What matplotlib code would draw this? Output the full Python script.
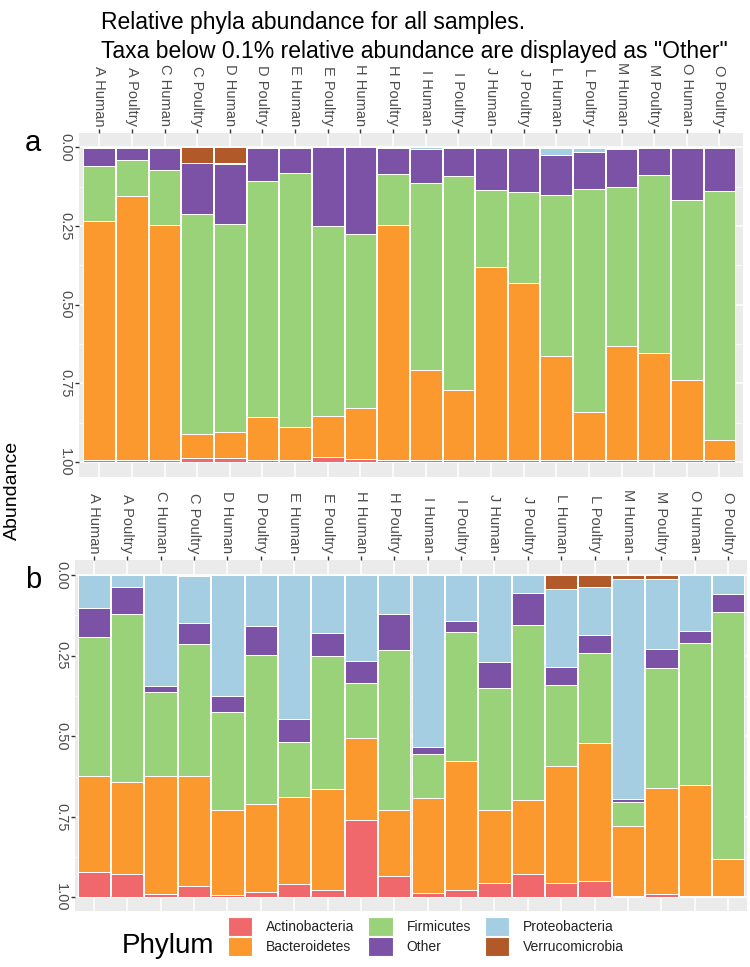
import matplotlib
matplotlib.use("Agg")
import matplotlib.pyplot as plt
from matplotlib.patches import Patch
import numpy as np

plt.rcParams["font.family"] = ["Liberation Sans", "DejaVu Sans"]

# =========================
# data
# =========================
samples = ["A Human", "A Poultry", "C Human", "C Poultry", "D Human", "D Poultry",
           "E Human", "E Poultry", "H Human", "H Poultry", "I Human", "I Poultry",
           "J Human", "J Poultry", "L Human", "L Poultry", "M Human", "M Poultry",
           "O Human", "O Poultry"]

# stacking order from the top (0) down to the bottom (1)
phyla = ["Verrucomicrobia", "Proteobacteria", "Other", "Firmicutes",
         "Bacteroidetes", "Actinobacteria"]
colors = {"Actinobacteria": "#F0686B", "Bacteroidetes": "#FB982E",
          "Firmicutes": "#9AD27A", "Other": "#7B52A6",
          "Proteobacteria": "#A6CEE3", "Verrucomicrobia": "#B15928"}

# panel a
a_verruco = [0, 0, 0, 0.049, 0.051, 0, 0, 0, 0, 0,
             0, 0, 0, 0, 0.004, 0.003, 0.002, 0.002, 0.003, 0.002]
a_proteo = [0.004, 0.002, 0.004, 0.002, 0.002, 0.002, 0.002, 0.001, 0.001, 0.002,
            0.006, 0.003, 0.004, 0.002, 0.021, 0.012, 0.004, 0.002, 0.001, 0.001]
a_other = [0.057, 0.038, 0.068, 0.161, 0.191, 0.104, 0.081, 0.248, 0.275, 0.082,
           0.109, 0.090, 0.131, 0.142, 0.128, 0.117, 0.122, 0.084, 0.163, 0.135]
a_firm = [0.175, 0.114, 0.175, 0.698, 0.662, 0.751, 0.807, 0.606, 0.552, 0.162,
          0.594, 0.679, 0.247, 0.288, 0.509, 0.708, 0.503, 0.567, 0.574, 0.791]
a_bact = [0.757, 0.841, 0.746, 0.079, 0.081, 0.136, 0.103, 0.129, 0.162, 0.749,
          0.284, 0.223, 0.613, 0.561, 0.331, 0.155, 0.362, 0.338, 0.254, 0.066]
a_actino = [0.007, 0.005, 0.007, 0.011, 0.013, 0.007, 0.007, 0.016, 0.010, 0.005,
            0.007, 0.005, 0.005, 0.007, 0.007, 0.005, 0.007, 0.007, 0.005, 0.005]

# panel b
b_verruco = [0, 0, 0, 0.002, 0, 0, 0, 0, 0, 0,
             0, 0, 0, 0, 0.042, 0.036, 0.011, 0.011, 0, 0]
b_proteo = [0.103, 0.038, 0.343, 0.145, 0.376, 0.159, 0.447, 0.179, 0.265, 0.122,
            0.534, 0.141, 0.269, 0.054, 0.243, 0.151, 0.682, 0.218, 0.173, 0.057]
b_other = [0.090, 0.084, 0.020, 0.067, 0.049, 0.089, 0.071, 0.072, 0.069, 0.111,
           0.020, 0.034, 0.080, 0.101, 0.056, 0.055, 0.012, 0.060, 0.038, 0.058]
b_firm = [0.431, 0.521, 0.261, 0.410, 0.303, 0.462, 0.169, 0.413, 0.170, 0.496,
          0.138, 0.401, 0.380, 0.543, 0.250, 0.279, 0.073, 0.372, 0.439, 0.765]
b_bact = [0.297, 0.285, 0.364, 0.341, 0.265, 0.273, 0.272, 0.313, 0.255, 0.204,
          0.294, 0.401, 0.226, 0.228, 0.363, 0.428, 0.216, 0.328, 0.346, 0.114]
b_actino = [0.079, 0.072, 0.012, 0.035, 0.007, 0.017, 0.041, 0.023, 0.241, 0.067,
            0.014, 0.023, 0.045, 0.074, 0.046, 0.051, 0.006, 0.011, 0.004, 0.006]

yticks = [0, 0.25, 0.5, 0.75, 1.0]
ytick_labels = ["0.00", "0.25", "0.50", "0.75", "1.00"]


def draw_panel(ax, series, xlim, ylim):
    x = np.arange(len(samples))
    bottom = np.zeros(len(samples))
    for name, vals in zip(phyla, series):
        vals = np.array(vals)
        ax.bar(x, vals, bottom=bottom, width=0.97, color=colors[name],
               edgecolor="white", linewidth=0.7, zorder=3)
        bottom += vals
    ax.set_facecolor("#EBEBEB")
    for s in ax.spines.values():
        s.set_visible(False)
    ax.set_xlim(*xlim)
    ax.set_ylim(*ylim)
    ax.xaxis.tick_top()
    ax.set_xticks(x)
    ax.set_xticklabels(samples, rotation=-90, fontsize=10.5, color="#4D4D4D")
    ax.set_yticks(yticks)
    ax.set_yticklabels(ytick_labels, rotation=-90, va="center",
                       fontsize=10.5, color="#4D4D4D")
    ax.set_yticks([0.125, 0.375, 0.625, 0.875], minor=True)
    ax.tick_params(axis="both", which="major", length=3, width=1,
                   color="#333333", pad=2)
    ax.tick_params(axis="y", which="minor", length=0)
    ax.grid(True, which="major", color="white", linewidth=1.1, zorder=0)
    ax.grid(True, which="minor", axis="y", color="white", linewidth=0.5, zorder=0)
    ax.set_axisbelow(True)


fig = plt.figure(figsize=(7.5, 9.67), dpi=100)

ax_a = fig.add_axes([79 / 750, 1 - 477 / 967, 664 / 750, 344 / 967])
draw_panel(ax_a, [a_verruco, a_proteo, a_other, a_firm, a_bact, a_actino],
           (-0.62, 19.72), (1.048, -0.045))

ax_b = fig.add_axes([75 / 750, 1 - 911 / 967, 672 / 750, 351 / 967])
draw_panel(ax_b, [b_verruco, b_proteo, b_other, b_firm, b_bact, b_actino],
           (-0.56, 19.56), (1.042, -0.047))

# titles and panel letters
fig.text(101 / 750, 1 - 29 / 967, "Relative phyla abundance for all samples.",
         fontsize=16.5, va="baseline")
fig.text(101 / 750, 1 - 58 / 967,
         'Taxa below 0.1% relative abundance are displayed as "Other"',
         fontsize=16.5, va="baseline")
fig.text(25 / 750, 1 - 151 / 967, "a", fontsize=21, va="baseline")
fig.text(25 / 750, 1 - 588 / 967, "b", fontsize=21, va="baseline")
fig.text(12 / 750, 1 - 490 / 967, "Abundance", fontsize=14, rotation=90,
         ha="center", va="center")

# legend
fig.text(122 / 750, 1 - 953 / 967, "Phylum", fontsize=20, va="baseline")
legend_order = ["Actinobacteria", "Bacteroidetes", "Firmicutes", "Other",
                "Proteobacteria", "Verrucomicrobia"]
handles = [Patch(facecolor=colors[n], edgecolor="white", linewidth=0.8)
           for n in legend_order]
fig.legend(handles, legend_order, ncol=3, loc="upper left",
           bbox_to_anchor=(228 / 750, 1 - 917 / 967), frameon=False,
           fontsize=10, handlelength=1.75, handleheight=1.75,
           labelspacing=0.05, handletextpad=1.0, columnspacing=1.0,
           borderpad=0, borderaxespad=0, labelcolor="#222222")

fig.savefig("out.png", dpi=100)
plt.close(fig)
